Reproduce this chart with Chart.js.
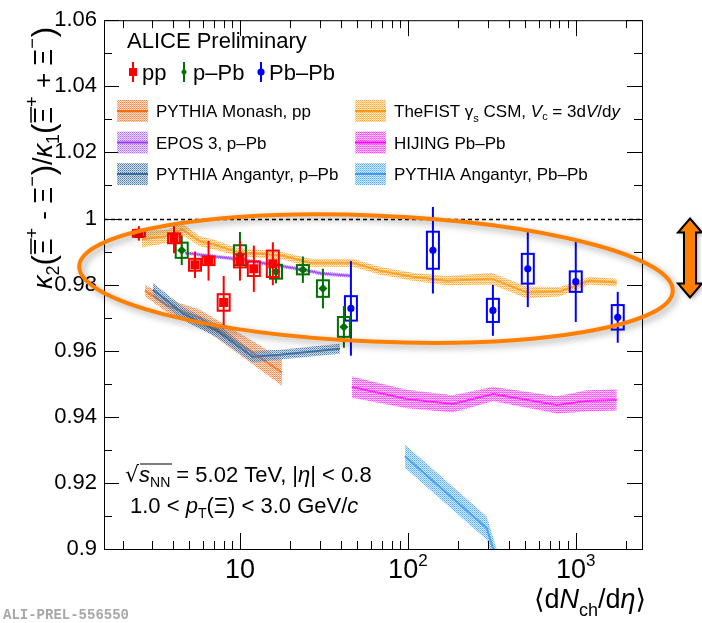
<!DOCTYPE html>
<html><head><meta charset="utf-8">
<script src="https://cdn.jsdelivr.net/npm/chart.js@4/dist/chart.umd.min.js"></script>
<style>html,body{margin:0;padding:0;background:#fff;}canvas{display:block;}</style>
</head><body>
<canvas id="c" width="702" height="623"></canvas>
<script>
// ---------- data ----------
const ppX    = [2.5, 4.05, 5.4, 6.5, 8.0, 10.0, 12.1, 15.7];
const ppY    = [0.9955, 0.9940, 0.9860, 0.9872, 0.9746, 0.9872, 0.9848, 0.9863];
const ppStat = [0.0022, 0.0045, 0.0040, 0.0060, 0.0080, 0.0060, 0.0070, 0.0065];
const ppSys  = [0.0010, 0.0015, 0.0018, 0.0013, 0.0025, 0.0020, 0.0022, 0.0040];

const pPbX    = [4.5, 10.0, 16.4, 23.7, 31.2, 41.6];
const pPbY    = [0.9904, 0.9889, 0.9839, 0.9845, 0.9788, 0.9672];
const pPbStat = [0.0045, 0.0070, 0.0035, 0.0040, 0.0060, 0.0063];
const pPbSys  = [0.0023, 0.0030, 0.0021, 0.0014, 0.0025, 0.0030];

const PbPbX    = [45.8, 141, 321, 518, 1000, 1778];
const PbPbY    = [0.9728, 0.9904, 0.9722, 0.9848, 0.9809, 0.9701];
const PbPbStat = [0.0143, 0.0131, 0.0077, 0.0116, 0.0122, 0.0077];
const PbPbSys  = [0.0037, 0.0056, 0.0035, 0.0045, 0.0031, 0.0037];

const monashX   = [2.72, 3.67, 5.78, 8.37, 11.9, 17.8];
const monashY   = [0.9782, 0.9737, 0.9699, 0.9645, 0.9594, 0.9534];
const monashErr = [0.0018, 0.0020, 0.0025, 0.0030, 0.0035, 0.0040];

const eposX   = [4.71, 10.0, 17.3, 23.7, 31.2, 46.4];
const eposY   = [0.9896, 0.9876, 0.9857, 0.9845, 0.9833, 0.9827];
const eposErr = [0.0006, 0.0006, 0.0006, 0.0006, 0.0006, 0.0006];

const angpPbX   = [3.03, 4.57, 7.3, 11.9, 17.3, 39.4];
const angpPbY   = [0.9785, 0.9713, 0.9660, 0.9582, 0.9588, 0.9606];
const angpPbErr = [0.0020, 0.0020, 0.0020, 0.0018, 0.0015, 0.0015];

const fistX   = [2.61, 3.67, 4.52, 5.78, 6.9, 9.6, 13.2, 18.0, 26.1, 47.1, 68, 107, 171, 316, 511, 803, 1211, 1754];
const fistY   = [0.9937, 0.9946, 0.9967, 0.9931, 0.9922, 0.9899, 0.9893, 0.9887, 0.9866, 0.9866, 0.9842, 0.9824, 0.9812, 0.9818, 0.9776, 0.9779, 0.9812, 0.9806];
const fistErr = [0.0025, 0.0020, 0.0018, 0.0015, 0.0015, 0.0012, 0.0012, 0.0012, 0.0012, 0.0012, 0.0012, 0.0012, 0.0014, 0.0018, 0.0018, 0.0014, 0.0012, 0.0012];

const hijingX   = [46.4, 98.6, 185, 321, 771, 1162, 1754];
const hijingY   = [0.9490, 0.9454, 0.9439, 0.9469, 0.9436, 0.9448, 0.9451];
const hijingErr = [0.0032, 0.0028, 0.0026, 0.0022, 0.0026, 0.0032, 0.0032];

const angPbPbX   = [96, 295, 345];
const angPbPbY   = [0.9281, 0.9063, 0.8950];
const angPbPbErr = [0.0035, 0.0035, 0.0035];

const xTickVals = [10, 100, 1000];
const xTickBase = ['10', '10', '10'];
const xTickExp  = ['', '2', '3'];

// ---------- helpers ----------
const SANS = '"Liberation Sans", Arial, Helvetica, sans-serif';
const canvas = document.getElementById('c');
const ctx0 = canvas.getContext('2d');
function pattern(color){
  const c = document.createElement('canvas'); c.width = 2; c.height = 2;
  const g = c.getContext('2d');
  g.globalAlpha = 0.25; g.fillStyle = color; g.fillRect(0,0,2,2);
  g.globalAlpha = 1; g.fillRect(0,0,1,1);
  g.globalAlpha = 0.6; g.fillRect(1,1,1,1);
  return ctx0.createPattern(c, 'repeat');
}
const pts = (xs, ys) => xs.map((x,i)=>({x, y: ys[i]}));
function band(xs, ys, es, line, dots){
  const common = {pointRadius:0, order:10, clip:0, tension:0};
  return [
    Object.assign({data: xs.map((x,i)=>({x, y: ys[i]-es[i]})), borderColor:'rgba(0,0,0,0)', fill:false}, common),
    Object.assign({data: xs.map((x,i)=>({x, y: ys[i]+es[i]})), borderColor:'rgba(0,0,0,0)', fill:'-1', backgroundColor: pattern(dots)}, common),
    Object.assign({data: pts(xs, ys), borderColor: line, borderWidth:2, fill:false}, common)
  ];
}
function points(xs, ys, st, sy, color, style, r){
  return {data: pts(xs, ys), showLine:false, pointStyle: style, pointRadius: r,
    pointBackgroundColor: color, pointBorderWidth: 0, borderColor: color,
    order: 0, errStat: st, errSys: sy, errColor: color};
}
const COL = {
  monash:['#ff6a10','#f7884a'], fist:['#f59a1f','#ffab3a'], epos:['#9a3cf5','#b070ff'],
  hij:['#ff00ff','#ff4cff'], angp:['#336b9e','#4f7cab'], angPb:['#3d9af0','#5aacff']
};
const datasets = [].concat(
  band(angpPbX, angpPbY, angpPbErr, COL.angp[0], COL.angp[1]),
  band(monashX, monashY, monashErr, COL.monash[0], COL.monash[1]),
  band(fistX, fistY, fistErr, COL.fist[0], COL.fist[1]),
  band(eposX, eposY, eposErr, COL.epos[0], COL.epos[1]),
  band(hijingX, hijingY, hijingErr, COL.hij[0], COL.hij[1]),
  band(angPbPbX, angPbPbY, angPbPbErr, COL.angPb[0], COL.angPb[1]),
  [points(ppX, ppY, ppStat, ppSys, '#ff0000', 'rect', 6.4),
   points(pPbX, pPbY, pPbStat, pPbSys, '#007000', 'rectRot', 4.5),
   points(PbPbX, PbPbY, PbPbStat, PbPbSys, '#0000ff', 'circle', 3.6)]
);

function rich(ctx, runs, x, y, align){
  let w = 0; const ms = [];
  for (const r of runs){ ctx.font = (r.st||'') + ' ' + r.s + 'px ' + (r.f||SANS); const m = ctx.measureText(r.t).width; ms.push(m); w += m + (r.g||0); }
  let cx = align === 'center' ? x - w/2 : align === 'right' ? x - w : x;
  runs.forEach((r,i)=>{
    ctx.font = (r.st||'') + ' ' + r.s + 'px ' + (r.f||SANS);
    ctx.fillText(r.t, cx, y + (r.dy||0));
    if (r.ol){ ctx.save(); ctx.lineWidth = r.olw||1.5; ctx.beginPath(); const oy = y + (r.dy||0) - r.ol; ctx.moveTo(cx+1, oy); ctx.lineTo(cx + ms[i] + (r.olx||0), oy); ctx.stroke(); ctx.restore(); }
    cx += ms[i] + (r.g||0);
  });
  return w;
}
function marker(ctx, style, x, y, r, color){
  ctx.fillStyle = color; ctx.beginPath();
  if (style === 'rect'){ ctx.rect(x-r, y-r, 2*r, 2*r); }
  else if (style === 'diamond'){ ctx.moveTo(x, y-r*1.2); ctx.lineTo(x+r*0.8, y); ctx.lineTo(x, y+r*1.2); ctx.lineTo(x-r*0.8, y); ctx.closePath(); }
  else { ctx.arc(x, y, r, 0, Math.PI*2); }
  ctx.fill();
}

const deco = {
  id: 'deco',
  beforeDatasetsDraw(chart){
    const {ctx, chartArea: a, scales: {y}} = chart;
    ctx.save(); ctx.strokeStyle = '#000'; ctx.lineWidth = 1.5; ctx.setLineDash([4,3]);
    const py = Math.round(y.getPixelForValue(1.0)) + 0.5;
    ctx.beginPath(); ctx.moveTo(a.left, py); ctx.lineTo(a.right, py); ctx.stroke(); ctx.restore();
  },
  beforeDatasetDraw(chart, args){
    const ds = chart.data.datasets[args.index];
    if (!ds.errStat) return;
    const {ctx, scales: {x, y}} = chart;
    ctx.save(); ctx.strokeStyle = ds.errColor; ctx.lineWidth = 2;
    ds.data.forEach((p, i) => {
      const px = x.getPixelForValue(p.x);
      ctx.beginPath(); ctx.moveTo(px, y.getPixelForValue(p.y + ds.errStat[i])); ctx.lineTo(px, y.getPixelForValue(p.y - ds.errStat[i])); ctx.stroke();
      const t = y.getPixelForValue(p.y + ds.errSys[i]), b = y.getPixelForValue(p.y - ds.errSys[i]);
      ctx.strokeRect(px - 6, t, 12, b - t);
    });
    ctx.restore();
  },
  afterDatasetsDraw(chart){
    const {ctx, chartArea: a, scales: {x, y}} = chart;
    ctx.save();
    ctx.strokeStyle = '#000'; ctx.lineWidth = 1;
    ctx.strokeRect(a.left + 0.5, a.top + 0.5, a.right - a.left, a.bottom - a.top);
    ctx.beginPath();
    for (let k = 0; k <= 16; k++){
      const v = 0.9 + k*0.01; const py = Math.round(y.getPixelForValue(v)) + 0.5;
      const len = k % 2 === 0 ? 15 : 8;
      ctx.moveTo(a.left, py); ctx.lineTo(a.left + len, py);
      ctx.moveTo(a.right, py); ctx.lineTo(a.right - len, py);
    }
    for (const d of [1, 10, 100, 1000]) for (let m = 1; m <= 9; m++){
      const v = m*d; if (v < x.min || v > x.max) continue;
      const px = Math.round(x.getPixelForValue(v)) + 0.5; const len = m === 1 ? 16 : 8;
      ctx.moveTo(px, a.bottom); ctx.lineTo(px, a.bottom - len);
      ctx.moveTo(px, a.top); ctx.lineTo(px, a.top + len);
    }
    ctx.stroke();
    ctx.restore();
  },
  afterDraw(chart){
    const {ctx, chartArea: a, scales: {x, y}} = chart;
    ctx.save(); ctx.fillStyle = '#000'; ctx.textBaseline = 'alphabetic';
    xTickVals.forEach((v, i) => {
      rich(ctx, [{t: xTickBase[i], s: 27}, {t: xTickExp[i], s: 17, dy: -12}], x.getPixelForValue(v), a.bottom + 29, 'center');
    });
    rich(ctx, [{t:'\u27e8', s:27, f:'"DejaVu Sans", sans-serif'}, {t:'d', s:27}, {t:'N', s:27, st:'italic'}, {t:'ch', s:18, dy:8},
               {t:'/d', s:27}, {t:'\u03b7', s:27, st:'italic'}, {t:'\u27e9', s:27, f:'"DejaVu Sans", sans-serif'}], a.right + 4, 608, 'right');
    // y title
    ctx.save(); ctx.translate(52, 158); ctx.rotate(-Math.PI/2);
    const X = {t:'\u039e', s:26, ol:21};
    const sup = t => ({t, s:18, dy:-14, g:1});
    const sub = t => ({t, s:18, dy:7});
    const big = t => ({t, s:31, dy:2});
    rich(ctx, [{t:'\u03ba', s:27, st:'italic'}, sub('2'), big('('), X, sup('+'), {t:' - ', s:26}, {t:'\u039e', s:26}, sup('\u2212'), big(')'),
               {t:'/', s:27}, {t:'\u03ba', s:27, st:'italic'}, sub('1'), big('('), X, sup('+'), {t:' + ', s:26}, {t:'\u039e', s:26}, sup('\u2212'), big(')')], 0, 0, 'center');
    ctx.restore();
    rich(ctx, [{t:'ALICE Preliminary', s:22}], 127, 48, 'left');
    ctx.strokeStyle = '#ff0000'; ctx.lineWidth = 2;
    ctx.beginPath(); ctx.moveTo(133, 62); ctx.lineTo(133, 82); ctx.stroke(); marker(ctx, 'rect', 133, 72, 4, '#ff0000');
    ctx.strokeStyle = '#007000'; ctx.beginPath(); ctx.moveTo(184, 62); ctx.lineTo(184, 82); ctx.stroke(); marker(ctx, 'diamond', 184, 72, 3.5, '#007000');
    ctx.strokeStyle = '#0000ff'; ctx.beginPath(); ctx.moveTo(261, 62); ctx.lineTo(261, 82); ctx.stroke(); marker(ctx, 'circle', 261, 72, 3.6, '#0000ff');
    ctx.fillStyle = '#000';
    rich(ctx, [{t:'pp', s:22}], 142, 80, 'left');
    rich(ctx, [{t:'p\u2013Pb', s:22}], 193, 80, 'left');
    rich(ctx, [{t:'Pb\u2013Pb', s:22}], 269, 80, 'left');
    const entries = [
      [117, 111, COL.monash, [{t:'PYTHIA Monash, pp', s:17}]],
      [117, 142.5, COL.epos, [{t:'EPOS 3, p\u2013Pb', s:17}]],
      [117, 174, COL.angp, [{t:'PYTHIA Angantyr, p\u2013Pb', s:17}]],
      [355, 111, COL.fist, [{t:'TheFIST ', s:17}, {t:'\u03b3', s:17}, {t:'s', s:11, dy:5}, {t:' CSM, ', s:17}, {t:'V', s:17, st:'italic'}, {t:'c', s:11, dy:3}, {t:' = 3d', s:17}, {t:'V', s:17, st:'italic'}, {t:'/d', s:17}, {t:'y', s:17, st:'italic'}]],
      [355, 142.5, COL.hij, [{t:'HIJING Pb\u2013Pb', s:17}]],
      [355, 174, COL.angPb, [{t:'PYTHIA Angantyr, Pb\u2013Pb', s:17}]]
    ];
    for (const [lx, ly, c, runs] of entries){
      ctx.fillStyle = pattern(c[1]); ctx.fillRect(lx, ly - 11, 31, 22);
      ctx.strokeStyle = c[0]; ctx.lineWidth = 2; ctx.beginPath(); ctx.moveTo(lx, ly); ctx.lineTo(lx + 31, ly); ctx.stroke();
      ctx.fillStyle = '#000'; rich(ctx, runs, lx + 39, ly + 6, 'left');
    }
    ctx.fillStyle = '#000'; ctx.strokeStyle = '#000';
    rich(ctx, [{t:'\u221a', s:22, f:'"DejaVu Sans", sans-serif'}, {t:'s', s:22, st:'italic', ol:18, olx:22, olw:1.2}, {t:'NN', s:14, dy:5}, {t:' = 5.02 TeV, |', s:22}, {t:'\u03b7', s:22, st:'italic'}, {t:'| < 0.8', s:22}], 125, 482, 'left');
    rich(ctx, [{t:'1.0 < ', s:22}, {t:'p', s:22, st:'italic'}, {t:'T', s:14, dy:5}, {t:'(\u039e) < 3.0 GeV/', s:22}, {t:'c', s:22, st:'italic'}], 130, 513, 'left');
    ctx.fillStyle = '#a8a8a8'; ctx.font = 'bold 14px "Liberation Mono", monospace'; ctx.fillText('ALI-PREL-556550', 3, 619);
    ctx.save();
    ctx.shadowColor = 'rgba(0,0,0,0.35)'; ctx.shadowBlur = 7; ctx.shadowOffsetX = 3; ctx.shadowOffsetY = 3;
    ctx.strokeStyle = '#ff8000'; ctx.lineWidth = 4;
    ctx.beginPath(); ctx.ellipse(x.getPixelForValue(64.6), y.getPixelForValue(0.9818), 297, 63, 0.042, 0, Math.PI*2); ctx.stroke();
    ctx.restore();
    const cx = a.right + 48, t = y.getPixelForValue(1.0), b = y.getPixelForValue(0.9761);
    ctx.save();
    ctx.shadowColor = 'rgba(0,0,0,0.35)'; ctx.shadowBlur = 5; ctx.shadowOffsetX = 2; ctx.shadowOffsetY = 2;
    ctx.beginPath();
    ctx.moveTo(cx, t); ctx.lineTo(cx + 12, t + 14); ctx.lineTo(cx + 6, t + 14); ctx.lineTo(cx + 6, b - 14); ctx.lineTo(cx + 12, b - 14);
    ctx.lineTo(cx, b); ctx.lineTo(cx - 12, b - 14); ctx.lineTo(cx - 6, b - 14); ctx.lineTo(cx - 6, t + 14); ctx.lineTo(cx - 12, t + 14); ctx.closePath();
    ctx.fillStyle = '#ff8000'; ctx.fill();
    ctx.shadowColor = 'rgba(0,0,0,0)'; ctx.strokeStyle = '#000'; ctx.lineWidth = 2; ctx.stroke();
    ctx.restore();
    ctx.restore();
  }
};

new Chart(canvas, {
  type: 'line',
  data: {datasets},
  options: {
    responsive: false, animation: false, devicePixelRatio: 1, events: [],
    layout: {padding: {left: 0, right: 60, top: 13, bottom: 0}},
    plugins: {legend: {display: false}, tooltip: {enabled: false}},
    scales: {
      x: {type: 'logarithmic', min: 1.55, max: 2480, grid: {display: false}, border: {display: false},
          ticks: {display: false}, afterFit: s => { s.height = 74; }},
      y: {type: 'linear', min: 0.9, max: 1.06, grid: {display: false, drawTicks: false}, border: {display: false},
          ticks: {stepSize: 0.02, padding: 7, color: '#000', font: {family: SANS, size: 22},
                  callback: v => parseFloat(v.toFixed(2)).toString()},
          afterFit: s => { s.width = 104; }}
    }
  },
  plugins: [deco]
});
</script>
</body></html>
